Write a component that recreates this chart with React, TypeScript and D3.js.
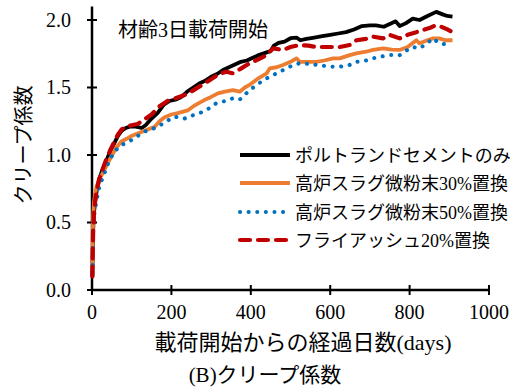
import React, { useRef, useEffect } from 'react';
import * as d3 from 'd3';

// days / creep coefficient
const opc = [
  [1, 0.1], [2, 0.3], [3, 0.45], [5, 0.57], [8, 0.66], [12, 0.74], [18, 0.82], [25, 0.88], [35, 0.95],
  [45, 1.02], [55, 1.08], [65, 1.14], [75, 1.18], [85, 1.2], [95, 1.21], [110, 1.21], [125, 1.2],
  [135, 1.22], [150, 1.27], [165, 1.31], [180, 1.37], [195, 1.4], [210, 1.41], [225, 1.43], [240, 1.47],
  [255, 1.5], [270, 1.53], [285, 1.55], [300, 1.58], [315, 1.6], [330, 1.63], [345, 1.65], [360, 1.67],
  [375, 1.69], [390, 1.7], [405, 1.72], [420, 1.74], [440, 1.76], [450, 1.77], [458, 1.81], [470, 1.83],
  [485, 1.84], [500, 1.865], [515, 1.87], [525, 1.85], [540, 1.86], [560, 1.87], [580, 1.88], [600, 1.89],
  [620, 1.9], [640, 1.91], [660, 1.93], [680, 1.955], [700, 1.96], [715, 1.96], [735, 1.95], [750, 1.97],
  [765, 1.99], [775, 1.955], [790, 1.975], [808, 2.01], [825, 2.0], [845, 2.03], [867, 2.06], [885, 2.04],
  [895, 2.03], [908, 2.025],
];
const bfs30 = [
  [1, 0.15], [2, 0.4], [3, 0.55], [5, 0.65], [8, 0.72], [12, 0.77], [18, 0.82], [28, 0.87], [38, 0.93],
  [49, 0.99], [60, 1.05], [74, 1.1], [87, 1.12], [99, 1.14], [115, 1.16], [137, 1.185], [158, 1.21],
  [170, 1.25], [183, 1.28], [200, 1.3], [216, 1.31], [241, 1.33], [260, 1.37], [283, 1.407], [300, 1.43],
  [317, 1.457], [335, 1.47], [355, 1.48], [372, 1.469], [385, 1.5], [397, 1.52], [420, 1.57], [440, 1.605],
  [448, 1.642], [465, 1.65], [481, 1.667], [500, 1.69], [515, 1.716], [523, 1.69], [545, 1.69], [565, 1.69],
  [585, 1.7], [607, 1.716], [624, 1.716], [649, 1.74], [666, 1.753], [690, 1.765], [708, 1.778], [733, 1.79],
  [755, 1.78], [775, 1.778], [795, 1.8], [817, 1.85], [825, 1.827], [845, 1.85], [859, 1.864], [875, 1.864],
  [890, 1.85], [908, 1.85],
];
const bfs50 = [
  [1, 0.12], [2, 0.3], [3, 0.45], [5, 0.55], [8, 0.6], [11, 0.654], [18, 0.76], [28, 0.84], [36, 0.9],
  [44, 0.963], [58, 1.03], [74, 1.074], [87, 1.09], [99, 1.11], [115, 1.14], [132, 1.173], [150, 1.19],
  [166, 1.21], [188, 1.25], [208, 1.284], [233, 1.27], [250, 1.29], [271, 1.31], [292, 1.34], [313, 1.383],
  [335, 1.4], [355, 1.42], [372, 1.41], [397, 1.48], [420, 1.53], [440, 1.568], [473, 1.617], [498, 1.654],
  [523, 1.68], [545, 1.675], [565, 1.667], [585, 1.66], [607, 1.654], [624, 1.654], [649, 1.667], [666, 1.69],
  [690, 1.7], [708, 1.716], [730, 1.73], [750, 1.74], [775, 1.74], [790, 1.77], [808, 1.8], [825, 1.79],
  [845, 1.83], [859, 1.864], [875, 1.827], [890, 1.82], [900, 1.815],
];
const fa20 = [
  [1, 0.1], [2, 0.3], [3, 0.45], [5, 0.57], [8, 0.66], [12, 0.74], [18, 0.82], [25, 0.88], [35, 0.96],
  [45, 1.03], [55, 1.09], [65, 1.15], [75, 1.19], [85, 1.21], [100, 1.22], [115, 1.23], [130, 1.26],
  [150, 1.3], [170, 1.36], [190, 1.4], [210, 1.42], [230, 1.44], [250, 1.47], [272, 1.51], [297, 1.556],
  [320, 1.6], [339, 1.617], [355, 1.605], [375, 1.64], [397, 1.68], [420, 1.71], [440, 1.74], [456, 1.79],
  [481, 1.778], [500, 1.8], [523, 1.815], [545, 1.81], [565, 1.8], [590, 1.8], [607, 1.8], [624, 1.8],
  [649, 1.815], [666, 1.85], [690, 1.86], [708, 1.877], [733, 1.864], [750, 1.89], [775, 1.864], [795, 1.89],
  [817, 1.91], [833, 1.926], [850, 1.94], [865, 1.96], [880, 1.95], [895, 1.93], [908, 1.91],
];

const seriesNames = ['ポルトランドセメントのみ', '高炉スラグ微粉末30%置換', '高炉スラグ微粉末50%置換', 'フライアッシュ20%置換'];
const xTicks = [0, 200, 400, 600, 800, 1000];
const yTicks = [0, 0.5, 1.0, 1.5, 2.0];

const FONT = "'Liberation Serif', 'Times New Roman', 'Noto Sans CJK JP', serif";

const App = () => {
  const svgRef = useRef<SVGSVGElement>(null);

  useEffect(() => {
    const svg = d3.select(svgRef.current);
    svg.selectAll('*').remove();

    const x = d3.scaleLinear().domain([0, 1000]).range([92, 489]);
    const y = d3.scaleLinear().domain([0, 2.1]).range([290, 6.5]);

    const styles = [
      { data: opc, color: '#000000', width: 3.8, dash: null, cap: 'butt' },
      { data: bfs30, color: '#ED7D31', width: 3.8, dash: null, cap: 'butt' },
      { data: bfs50, color: '#0070C0', width: 4, dash: '0.1 8.5', cap: 'round' },
      { data: fa20, color: '#C00000', width: 4.2, dash: '10 8', cap: 'round' },
    ];

    const line = d3.line<number[]>().x((d) => x(d[0])).y((d) => y(d[1]));

    // axes
    svg.append('line').attr('x1', x(0)).attr('x2', x(0)).attr('y1', y(0)).attr('y2', y(2.1))
      .attr('stroke', '#000').attr('stroke-width', 2.5);
    svg.append('line').attr('x1', x(0)).attr('x2', x(1000)).attr('y1', y(0)).attr('y2', y(0))
      .attr('stroke', '#000').attr('stroke-width', 2.5);

    svg.selectAll('.xtick').data(xTicks).enter().append('line')
      .attr('x1', (d) => x(d)).attr('x2', (d) => x(d)).attr('y1', y(0) - 5).attr('y2', y(0) + 5)
      .attr('stroke', '#000').attr('stroke-width', 2);
    svg.selectAll('.ytick').data(yTicks).enter().append('line')
      .attr('x1', x(0) - 5).attr('x2', x(0) + 5).attr('y1', (d) => y(d)).attr('y2', (d) => y(d))
      .attr('stroke', '#000').attr('stroke-width', 2);

    svg.selectAll('.xlabel').data(xTicks).enter().append('text')
      .attr('x', (d) => x(d)).attr('y', 319).attr('text-anchor', 'middle')
      .attr('font-family', FONT).attr('font-size', 20).text((d) => d);
    svg.selectAll('.ylabel').data(yTicks).enter().append('text')
      .attr('x', 71).attr('y', (d) => y(d) + 6.5).attr('text-anchor', 'end')
      .attr('font-family', FONT).attr('font-size', 20).text((d) => d.toFixed(1));

    // series
    styles.forEach((s) => {
      svg.append('path').attr('d', line(s.data)).attr('fill', 'none')
        .attr('stroke', s.color).attr('stroke-width', s.width)
        .attr('stroke-linejoin', 'round').attr('stroke-linecap', s.cap)
        .attr('stroke-dasharray', s.dash);
    });

    // legend
    const rows = [155, 183, 212, 240];
    styles.forEach((s, i) => {
      svg.append('line').attr('x1', 240).attr('x2', 290).attr('y1', rows[i]).attr('y2', rows[i])
        .attr('stroke', s.color).attr('stroke-width', s.width)
        .attr('stroke-linecap', s.cap).attr('stroke-dasharray', s.dash);
      svg.append('text').attr('x', 295).attr('y', rows[i] + 7)
        .attr('font-family', FONT).attr('font-size', 18).text(seriesNames[i]);
    });

    svg.append('text').attr('x', 118).attr('y', 37).attr('font-family', FONT).attr('font-size', 20)
      .text('材齢3日載荷開始');

    svg.append('text').attr('x', 303).attr('y', 350).attr('text-anchor', 'middle')
      .attr('font-family', FONT).attr('font-size', 22).text('載荷開始からの経過日数(days)');
    svg.append('text').attr('transform', 'translate(31,145) rotate(-90)').attr('text-anchor', 'middle')
      .attr('font-family', FONT).attr('font-size', 20).text('クリープ係数');
    svg.append('text').attr('x', 265).attr('y', 382).attr('text-anchor', 'middle')
      .attr('font-family', FONT).attr('font-size', 21).text('(B)クリープ係数');
  }, []);

  return (
    <svg ref={svgRef} width={523} height={389} style={{ position: 'absolute', left: 0, top: 0, background: '#fff' }} />
  );
};

export default App;
